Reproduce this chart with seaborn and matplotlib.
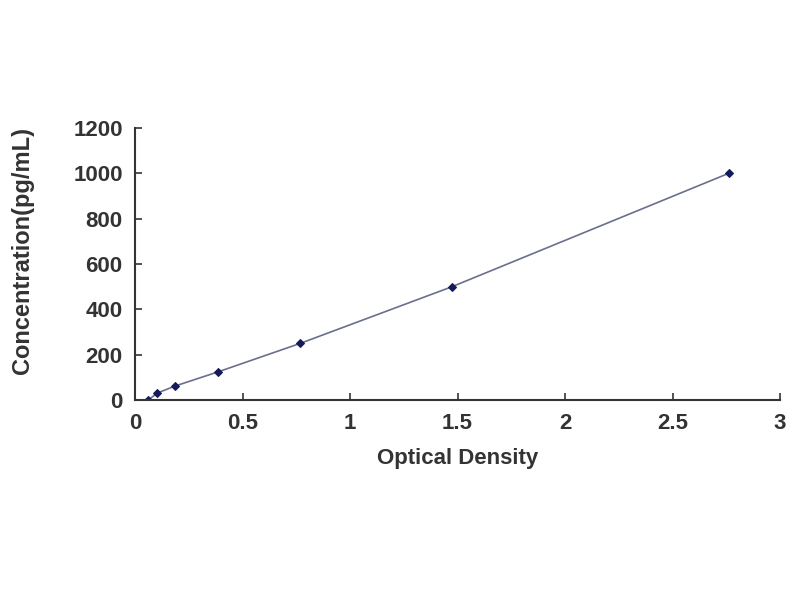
import matplotlib
matplotlib.use("Agg")
import matplotlib.pyplot as plt
import seaborn as sns
import pandas as pd

# standard curve values
optical_density = [0.06, 0.102, 0.186, 0.386, 0.767, 1.474, 2.763]
concentration = [0, 31.25, 62.5, 125, 250, 500, 1000]

x_ticks = [0, 0.5, 1, 1.5, 2, 2.5, 3]
x_tick_labels = ["0", "0.5", "1", "1.5", "2", "2.5", "3"]
y_ticks = [0, 200, 400, 600, 800, 1000, 1200]

df = pd.DataFrame({"od": optical_density, "conc": concentration})

sns.set_style("white")
plt.rcParams["font.family"] = ["Liberation Sans", "DejaVu Sans"]
plt.rcParams["xtick.direction"] = "in"
plt.rcParams["ytick.direction"] = "in"

fig = plt.figure(figsize=(8, 6), dpi=100)
ax = fig.add_axes([0.169, 0.333, 0.806, 0.454])

sns.lineplot(data=df, x="od", y="conc", ax=ax, color="#6a6f8c",
             linewidth=1.2, marker="D", markersize=4,
             markerfacecolor="#141a5a", markeredgecolor="#141a5a")

ax.set_xlim(0, 3)
ax.set_ylim(0, 1200)
ax.set_xticks(x_ticks)
ax.set_xticklabels(x_tick_labels)
ax.set_yticks(y_ticks)

for side in ["top", "right"]:
    ax.spines[side].set_visible(False)
for side in ["left", "bottom"]:
    ax.spines[side].set_color("#333333")
    ax.spines[side].set_linewidth(1.5)

ax.tick_params(axis="both", which="major", direction="in", length=5,
               width=1.2, colors="#333333", labelsize=16, pad=9,
               bottom=True, left=True)
for lbl in ax.get_xticklabels() + ax.get_yticklabels():
    lbl.set_fontweight("bold")
    lbl.set_color("#333333")

ax.set_xlabel("Optical Density", fontsize=16, fontweight="bold",
              color="#333333", labelpad=10)
ax.set_ylabel("Concentration(pg/mL)", fontsize=17, fontweight="bold",
              color="#333333")
ax.yaxis.set_label_coords(-0.157, 0.55)

fig.savefig("out.png", dpi=100, facecolor="white")
